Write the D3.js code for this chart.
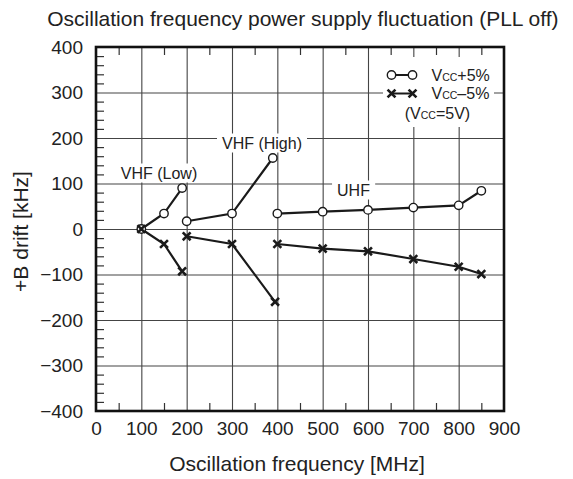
<!DOCTYPE html>
<html>
<head>
<meta charset="utf-8">
<script src="https://cdn.jsdelivr.net/npm/d3@7"></script>
<style>
  body { margin: 0; background: #fff; }
  svg { display: block; font-family: "Liberation Sans", Arial, sans-serif; }
</style>
</head>
<body>
<svg id="chart" width="573" height="479"></svg>
<script>
// Bands and values (MHz / kHz).
const bandNames = ["VHF (Low)", "VHF (High)", "UHF"];

const plusFreq = [[100, 150, 190], [200, 300, 390], [400, 500, 600, 700, 800, 850]];
const plusDrift = [[0, 34, 90], [17, 34, 156], [34, 38, 42, 47, 52, 84]];

const minusFreq = [[100, 150, 190], [200, 300, 395], [400, 500, 600, 700, 800, 850]];
const minusDrift = [[0, -33, -93], [-16, -33, -160], [-33, -43, -49, -66, -83, -99]];

const xTicks = [0, 100, 200, 300, 400, 500, 600, 700, 800, 900];
const yTicks = [-400, -300, -200, -100, 0, 100, 200, 300, 400];

const svg = d3.select("#chart");
const margin = { left: 96, top: 47, right: 69, bottom: 68 };
const width = 573 - margin.left - margin.right;
const height = 479 - margin.top - margin.bottom;

const x = d3.scaleLinear().domain([0, 900]).range([0, width]);
const y = d3.scaleLinear().domain([-400, 400]).range([height, 0]);

const g = svg.append("g").attr("transform", `translate(${margin.left},${margin.top})`);

// Grid lines.
g.append("g")
  .attr("transform", `translate(0,${height})`)
  .call(d3.axisBottom(x).tickValues(xTicks.slice(1, -1)).tickSize(-height).tickFormat(""))
  .call(s => s.select(".domain").remove())
  .selectAll("line").attr("stroke", "#444").attr("stroke-width", 1.1);

g.append("g")
  .call(d3.axisLeft(y).tickValues(yTicks.slice(1, -1)).tickSize(-width).tickFormat(""))
  .call(s => s.select(".domain").remove())
  .selectAll("line").attr("stroke", "#444").attr("stroke-width", 1.1);

// Minor ticks pointing inward.
const minorX = d3.range(50, 900, 100);
const minorY = d3.range(-400, 401, 20).filter(v => v % 100 !== 0);

g.append("g")
  .attr("transform", `translate(0,${height})`)
  .call(d3.axisBottom(x).tickValues(minorX).tickSize(-8).tickFormat(""))
  .call(s => s.select(".domain").remove())
  .selectAll("line").attr("stroke", "#333").attr("stroke-width", 1.2);

g.append("g")
  .call(d3.axisTop(x).tickValues(minorX).tickSize(-8).tickFormat(""))
  .call(s => s.select(".domain").remove())
  .selectAll("line").attr("stroke", "#333").attr("stroke-width", 1.2);

g.append("g")
  .call(d3.axisLeft(y).tickValues(minorY).tickSize(-8).tickFormat(""))
  .call(s => s.select(".domain").remove())
  .selectAll("line").attr("stroke", "#333").attr("stroke-width", 1.2);

// Tick labels.
const fmt = v => v < 0 ? "\u2212" + Math.abs(v) : String(v);

g.append("g")
  .attr("transform", `translate(0,${height})`)
  .call(d3.axisBottom(x).tickValues(xTicks).tickSize(0).tickPadding(11).tickFormat(fmt))
  .call(s => s.select(".domain").remove())
  .selectAll("text").attr("font-size", 19).attr("fill", "#222")
  .attr("font-family", "Liberation Sans, Arial, sans-serif");

g.append("g")
  .call(d3.axisLeft(y).tickValues(yTicks).tickSize(0).tickPadding(13).tickFormat(fmt))
  .call(s => s.select(".domain").remove())
  .selectAll("text").attr("font-size", 19).attr("fill", "#222")
  .attr("font-family", "Liberation Sans, Arial, sans-serif");

// Band labels with white boxes that cut the grid.
const bandLabelPos = [
  { x: 159, y: 178.5 },
  { x: 262, y: 148.5 },
  { x: 353.5, y: 195.5 }
];
bandNames.forEach((name, i) => {
  const p = bandLabelPos[i];
  const t = svg.append("text")
    .attr("x", p.x).attr("y", p.y)
    .attr("text-anchor", "middle")
    .attr("font-size", 16).attr("fill", "#222")
    .text(name);
  const bb = t.node().getBBox();
  svg.insert("rect", () => t.node())
    .attr("x", bb.x - 5).attr("y", bb.y - 1)
    .attr("width", bb.width + 10).attr("height", bb.height + 2)
    .attr("fill", "#fff");
});

// Legend box.
svg.append("rect")
  .attr("x", 383).attr("y", 57).attr("width", 111).attr("height", 70)
  .attr("fill", "#fff");

// Series lines.
const line = d3.line().x(d => x(d[0])).y(d => y(d[1]));
const series = [
  { freq: plusFreq, drift: plusDrift, marker: "circle" },
  { freq: minusFreq, drift: minusDrift, marker: "x" }
];

series.forEach(s => {
  s.freq.forEach((fs, b) => {
    const pts = fs.map((f, i) => [f, s.drift[b][i]]);
    g.append("path")
      .datum(pts)
      .attr("d", line)
      .attr("fill", "none")
      .attr("stroke", "#1a1a1a")
      .attr("stroke-width", 2.2);
  });
});

const xSym = d3.symbol(d3.symbolX, 42);

// Markers placed at pixel positions [px, py] inside a group.
function drawMarkers(sel, pts, marker) {
  if (marker === "circle") {
    sel.selectAll(null).data(pts).join("circle")
      .attr("cx", d => d[0]).attr("cy", d => d[1]).attr("r", 4.2)
      .attr("fill", "#fff").attr("stroke", "#1a1a1a").attr("stroke-width", 1.4);
  } else {
    sel.selectAll(null).data(pts).join("path")
      .attr("d", xSym)
      .attr("transform", d => `translate(${d[0]},${d[1]})`)
      .attr("fill", "none").attr("stroke", "#1a1a1a").attr("stroke-width", 2.6);
  }
}

series.forEach(s => {
  const pts = s.freq.flatMap((fs, b) => fs.map((f, i) => [x(f), y(s.drift[b][i])]));
  drawMarkers(g.append("g"), pts, s.marker);
});

// Frame.
g.append("rect")
  .attr("width", width).attr("height", height)
  .attr("fill", "none").attr("stroke", "#111").attr("stroke-width", 2.6);

// Legend.
const legendRows = [
  { marker: "circle", label: "+5%", y: 75 },
  { marker: "x", label: "\u20135%", y: 93.5 }
];
legendRows.forEach(r => {
  svg.append("line")
    .attr("x1", 391.5).attr("x2", 412.5).attr("y1", r.y).attr("y2", r.y)
    .attr("stroke", "#1a1a1a").attr("stroke-width", 2);
  drawMarkers(svg.append("g"), [[391.5, r.y], [412.5, r.y]], r.marker);
  const t = svg.append("text")
    .attr("x", 431.5).attr("y", r.y + 5.5)
    .attr("font-size", 16).attr("fill", "#222");
  t.append("tspan").text("V");
  t.append("tspan").attr("font-size", 10.5).text("CC");
  t.append("tspan").text(r.label);
});
const note = svg.append("text")
  .attr("x", 437.5).attr("y", 119)
  .attr("text-anchor", "middle")
  .attr("font-size", 16).attr("fill", "#222");
note.append("tspan").text("(V");
note.append("tspan").attr("font-size", 10.5).text("CC");
note.append("tspan").text("=5V)");

// Titles.
svg.append("text")
  .attr("x", 302.9).attr("y", 25.5)
  .attr("text-anchor", "middle")
  .attr("font-size", 21).attr("fill", "#222")
  .text("Oscillation frequency power supply fluctuation (PLL off)");

svg.append("text")
  .attr("x", 297).attr("y", 470.5)
  .attr("text-anchor", "middle")
  .attr("font-size", 21).attr("fill", "#222")
  .text("Oscillation frequency [MHz]");

svg.append("text")
  .attr("transform", "translate(27.5,231.5) rotate(-90)")
  .attr("text-anchor", "middle")
  .attr("font-size", 21).attr("fill", "#222")
  .text("+B drift [kHz]");
</script>
</body>
</html>
